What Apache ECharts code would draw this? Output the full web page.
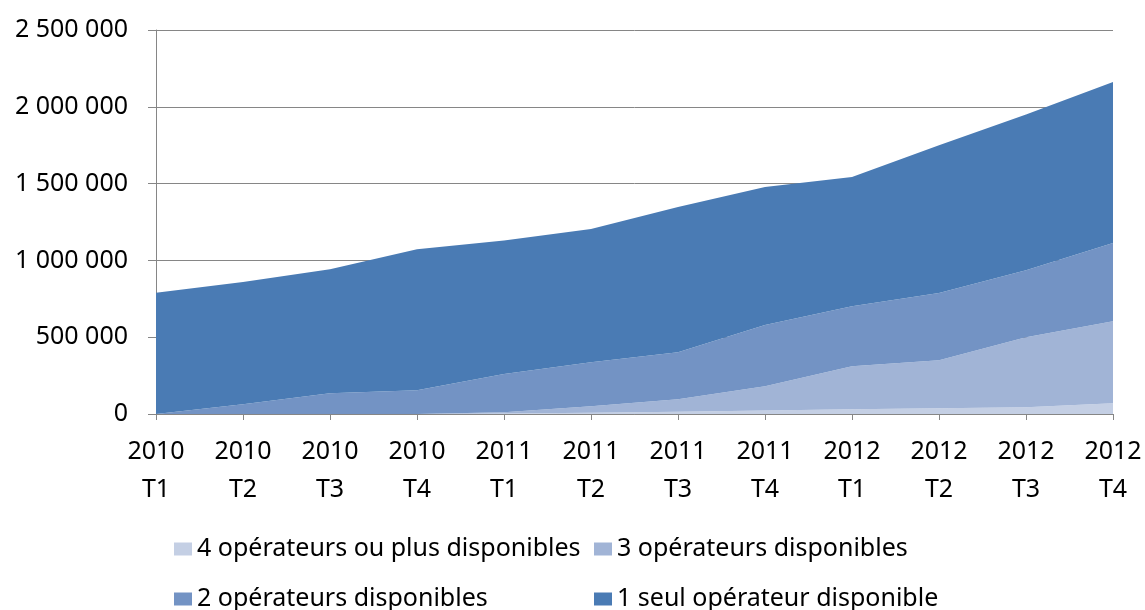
<!DOCTYPE html>
<html>
<head>
<meta charset="utf-8">
<script src="https://cdn.jsdelivr.net/npm/echarts@6/dist/echarts.min.js"></script>
<style>html,body{margin:0;padding:0;background:#fff}#c{width:1145px;height:610px}</style>
</head>
<body>
<div id="c"></div>
<script>
const categories = ["2010\nT1","2010\nT2","2010\nT3","2010\nT4","2011\nT1","2011\nT2","2011\nT3","2011\nT4","2012\nT1","2012\nT2","2012\nT3","2012\nT4"];
const seriesNames = ["4 opérateurs ou plus disponibles","3 opérateurs disponibles","2 opérateurs disponibles","1 seul opérateur disponible"];
const ops4 = [0,0,0,0,3000,8000,15000,23000,31000,37000,44000,70000];
const ops3 = [0,0,0,0,8000,42000,81000,157000,280000,313000,456000,534000];
const ops2 = [0,63000,135000,154000,249000,287000,306000,399000,390000,437000,436000,509000];
const ops1 = [789000,796000,808000,918000,870000,867000,945000,899000,842000,963000,1014000,1049000];
const colors = ["#c4cfe4","#a1b4d6","#7393c4","#4a7bb4"];
const values = [ops4, ops3, ops2, ops1];

const fmt = v => String(v).replace(/\B(?=(\d{3})+(?!\d))/g, " ");
const chart = echarts.init(document.getElementById('c'), null, {renderer:'canvas'});
const legendText = {fontFamily:"'Noto Sans',sans-serif", fontSize:25, color:'#000', lineHeight:26};
const legendPos = [[174,536],[594,536],[174,586],[594,586]];
chart.setOption({
  animation:false,
  color: colors,
  grid:{left:156, right:32, top:30, bottom:196, containLabel:false},
  legend: seriesNames.map((n,i)=>({
    left:legendPos[i][0], top:legendPos[i][1], itemWidth:18, itemHeight:13, icon:'rect',
    data:[n], textStyle:legendText, selectedMode:false, padding:0
  })),
  xAxis:{type:'category', data:categories, boundaryGap:false,
    axisLine:{lineStyle:{color:'#868686', width:1}},
    axisTick:{show:true, length:6, lineStyle:{color:'#868686'}, alignWithLabel:true},
    axisLabel:{color:'#000', fontFamily:"'Noto Sans',sans-serif", fontSize:25, lineHeight:38, margin:19, interval:0}
  },
  yAxis:{type:'value', min:0, max:2500000, interval:500000,
    axisLine:{show:true, lineStyle:{color:'#868686', width:1}},
    axisTick:{show:true, length:8, lineStyle:{color:'#868686'}},
    splitLine:{show:true, lineStyle:{color:'#868686', width:1}},
    axisLabel:{color:'#000', fontFamily:"'Noto Sans',sans-serif", fontSize:25, margin:28, formatter:fmt}
  },
  series: values.map((d,i)=>({
    name: seriesNames[i], type:'line', stack:'total', data:d,
    showSymbol:false, symbol:'none', lineStyle:{width:0},
    areaStyle:{color:colors[i], opacity:1}, itemStyle:{color:colors[i]}
  }))
});
</script>
</body>
</html>
